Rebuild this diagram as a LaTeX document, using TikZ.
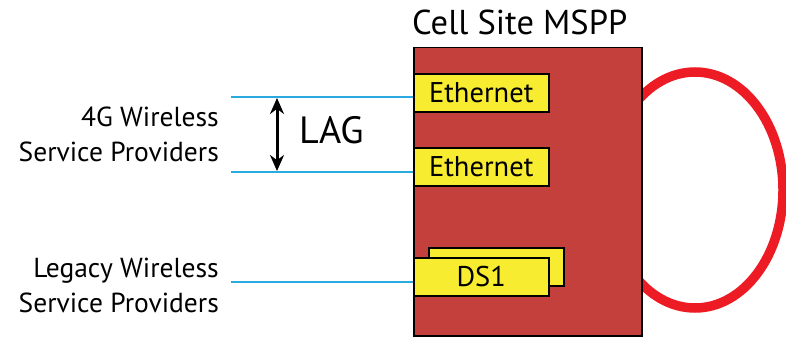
\documentclass[tikz,border=0pt]{standalone}
\usepackage{fontspec}
\setmainfont{PT Sans}
\usetikzlibrary{arrows.meta,positioning}

\definecolor{boxred}{HTML}{C4403C}
\definecolor{cardyellow}{HTML}{F8EC31}
\definecolor{ringred}{HTML}{ED1C24}
\definecolor{linkblue}{HTML}{29ABE2}

\tikzset{
  card/.style={draw=black, line width=1.5pt, fill=cardyellow, minimum width=135pt,
    minimum height=38pt, inner sep=0pt, anchor=north west, font=\fontsize{28.5}{30}\selectfont},
  link/.style={draw=linkblue, line width=2pt},
  provider/.style={align=right, anchor=east, inner sep=0pt, font=\fontsize{27.5}{35}\selectfont}
}

\begin{document}
\begin{tikzpicture}[x=1pt,y=-1pt]
\useasboundingbox (0,0) rectangle (786,337);
% ring behind the MSPP
\draw [ringred, line width=9.5pt] (695,190) ellipse [x radius=88, y radius=118];
\node [draw=black, line width=1.5pt, fill=boxred, anchor=north west, inner sep=0pt,
  minimum width=228pt, minimum height=288pt] (mspp) at (413,47) {};
\node [anchor=base west, inner sep=0pt, font=\fontsize{34.5}{40}\selectfont] (title) at (412,35) {Cell Site MSPP};
% interface cards
\node [card] (eth1) at (413,73) {Ethernet};
\node [card] (eth2) at (413,147) {Ethernet};
\node [card] (ds1b) at (428,247) {};
\node [card] (ds1) at (413,257) {DS1};
% provider links
\coordinate (l1) at (231,97);
\coordinate (l2) at (231,172);
\coordinate (l3) at (231,282);
\draw [link] (l1) -- (l1 -| mspp.west);
\draw [link] (l2) -- (l2 -| mspp.west);
\draw [link] (l3) -- (l3 -| mspp.west);
\coordinate (a1) at (277,98);
\coordinate (a2) at (277,171);
\draw [line width=3pt, {Stealth[length=16pt,width=14pt]}-{Stealth[length=16pt,width=14pt]}] (a1) -- (a2);
\node [anchor=west, inner sep=0pt, font=\fontsize{38}{42}\selectfont] (lag) at (299,130) {LAG};
% provider labels
\node [provider] (g4) at (219,134) {4G Wireless\\Service Providers};
\node [provider] (legacy) at (219,285) {Legacy Wireless\\Service Providers};
\end{tikzpicture}
\end{document}
